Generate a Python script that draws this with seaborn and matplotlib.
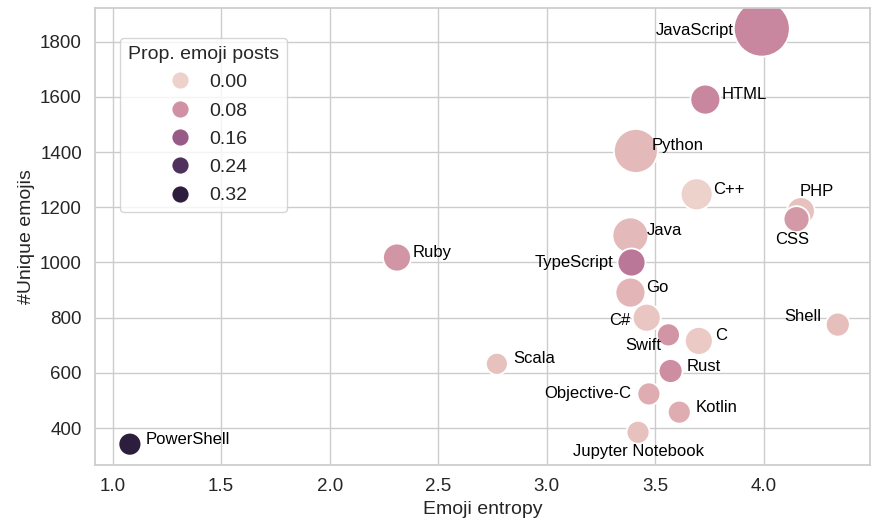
import matplotlib
matplotlib.use('Agg')

import pandas as pd
import matplotlib.pyplot as plt
import seaborn as sns

# === Data ===
languages = ["JavaScript", "Python", "Java", "C++", "HTML", "PHP", "CSS", "Ruby",
             "TypeScript", "Go", "C#", "C", "Shell", "Swift", "Rust", "Scala",
             "Objective-C", "Kotlin", "Jupyter Notebook", "PowerShell"]
entropy = [3.99, 3.41, 3.385, 3.69, 3.73, 4.17, 4.15, 2.31,
           3.39, 3.385, 3.46, 3.70, 4.34, 3.56, 3.57, 2.77,
           3.47, 3.61, 3.42, 1.08]
unique_emojis = [1847, 1404, 1098, 1247, 1590, 1186, 1157, 1018,
                 1000, 891, 800, 716, 775, 738, 607, 633,
                 524, 458, 385, 342]
prop_emoji_posts = [0.095, 0.03, 0.03, 0.0, 0.095, 0.02, 0.07, 0.075,
                    0.115, 0.035, 0.015, 0.01, 0.025, 0.075, 0.085, 0.02,
                    0.045, 0.045, 0.02, 0.38]
num_posts = [3136, 1936, 1296, 1024, 900, 784, 676, 784,
             784, 900, 784, 784, 576, 529, 576, 484,
             529, 529, 529, 529]

df = pd.DataFrame({
    "Language": languages,
    "Emoji entropy": entropy,
    "#Unique emojis": unique_emojis,
    "Prop. emoji posts": prop_emoji_posts,
    "Posts": num_posts,
})

# label placement (offset in points, alignment)
label_pos = {
    "JavaScript": ((-20, -1), "right"),
    "PHP": ((-0.7, 14.4), "left"),
    "CSS": ((-3, -15), "center"),
    "TypeScript": ((-13, 0), "right"),
    "C#": ((-12, -2), "right"),
    "Swift": ((-5, -8), "right"),
    "Shell": ((-12, 6), "right"),
    "Objective-C": ((-13, 0), "right"),
    "Jupyter Notebook": ((0, -14), "center"),
}

sns.set_theme(style="whitegrid")
plt.rcParams['font.family'] = ['Liberation Sans', 'DejaVu Sans']

fig, ax = plt.subplots(figsize=(8.73, 5.23), dpi=100)
fig.subplots_adjust(left=0.109, right=0.997, top=0.985, bottom=0.111)

sns.scatterplot(data=df, x="Emoji entropy", y="#Unique emojis",
                hue="Prop. emoji posts", hue_norm=(0, 0.28),
                size="Posts", sizes=(251, 1625),
                legend="brief", ax=ax)

for _, row in df.iterrows():
    off, ha = label_pos.get(row["Language"], ((11.5, 3.6), "left"))
    ax.annotate(row["Language"], (row["Emoji entropy"], row["#Unique emojis"]),
                xytext=off, textcoords="offset points", ha=ha, va="center",
                fontsize=12, color="black")

# keep only the hue part of the legend
handles, labels = ax.get_legend_handles_labels()
i0 = labels.index("Prop. emoji posts")
i1 = labels.index("Posts")
h = handles[i0 + 1:i1]
lab = labels[i0 + 1:i1]
for hd in h:
    hd.set_markersize(13)
ax.legend(h, lab, title="Prop. emoji posts", loc="upper left",
          bbox_to_anchor=(0.02, 0.955), fontsize=14, title_fontsize=14,
          labelspacing=0.55, handletextpad=0.5)

ax.set_xlim(0.92, 4.49)
ax.set_xlabel("Emoji entropy", fontsize=14)
ax.set_ylabel("#Unique emojis", fontsize=14)
ax.tick_params(labelsize=13.5)

plt.savefig("out.png")
plt.close()
